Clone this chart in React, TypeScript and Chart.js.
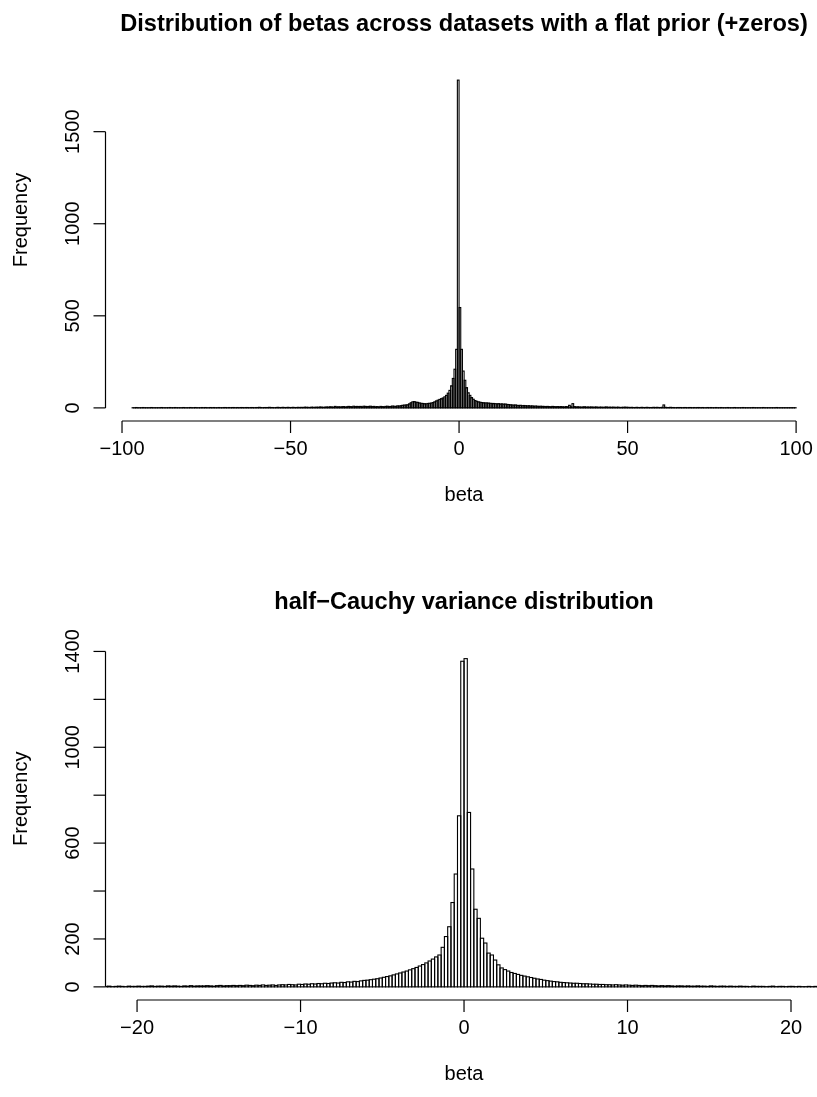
import React, { useEffect, useRef } from "react";
import { Chart, registerables } from "chart.js";

Chart.register(...registerables);

// ---------------- Top histogram: betas, flat prior (+zeros); bins of 0.5 from -97 ----------------
const topBreakStart = -97;
const topBinWidth = 0.5;
// (-97, -50]
const topFarLeft = [
  1, 1, 2, 1, 1, 1, 2, 1, 1, 1, 1, 2, 1, 1, 1, 1, 1, 2, 1, 1,
  1, 1, 2, 1, 1, 2, 1, 1, 1, 1, 2, 1, 1, 1, 2, 1, 1, 2, 1, 1,
  1, 2, 1, 2, 1, 1, 2, 1, 2, 1, 1, 2, 1, 1, 2, 2, 1, 2, 1, 2,
  2, 1, 2, 1, 2, 2, 1, 2, 2, 1, 2, 2, 1, 2, 2, 3, 2, 1, 2, 2,
  2, 3, 2, 2, 1, 2, 3, 2, 2, 3, 2, 2, 3, 2,
];
// (-50, -25]
const topMidLeft = [
  2, 3, 2, 2, 3, 2, 3, 2, 4, 3, 3, 2, 4, 3, 3, 4, 3, 5, 4, 3,
  4, 5, 4, 6, 5, 4, 8, 5, 6, 5, 6, 7, 5, 6, 8, 7, 6, 9, 7, 8,
  7, 8, 6, 9, 8, 7, 8, 9, 7, 8,
];
// (-25, -5]
const topNearLeft = [
  6, 7, 5, 8, 7, 6, 8, 9, 7, 8, 10, 9, 8, 11, 10, 12,
  14, 15, 16, 17,
  22, 28, 33, 34, 31, 30,
  27, 25, 24, 23, 22, 24, 25, 26, 29, 33,
  38, 42, 46, 50,
];
// (-5, 5]
const topCenter = [
  54, 60, 68, 80, 95, 120, 160, 210, 318, 1780,
  545, 318, 200, 150, 110, 82, 68, 56, 47, 40,
];
// (5, 25]
const topNearRight = [
  36, 33, 31, 29, 28, 27, 27, 26, 25, 24, 24, 23, 22, 23, 21, 22, 20, 21, 19, 18,
  17, 16, 15, 16, 14, 13, 14, 12, 13, 12, 11, 12, 10, 11, 9, 10, 9, 8, 9, 8,
];
// (25, 50]
const topMidRight = [
  8, 7, 8, 7, 6, 8, 7, 6, 7, 6, 7, 6, 5, 7, 6, 14, 6, 23, 7, 5,
  6, 5, 4, 5, 6, 4, 5, 4, 5, 4, 4, 5, 3, 4, 4, 3, 4, 5, 3, 4,
  3, 4, 3, 3, 4, 2, 3, 3, 4, 3,
];
// (50, 100]
const topFarRight = [
  3, 2, 3, 2, 2, 3, 2, 2, 3, 2, 2, 3, 2, 2, 2, 3, 2, 3, 2, 2,
  3, 16, 3, 2, 2, 3, 2, 2, 1, 2, 2, 2, 1, 2, 2, 1, 2, 2, 1, 2,
  1, 2, 2, 1, 2, 1, 1, 2, 1, 2, 1, 1, 2, 1, 1, 2, 1, 1, 1, 2,
  1, 1, 1, 2, 1, 1, 1, 1, 2, 1, 1, 1, 1, 1, 2, 1, 1, 1, 1, 1,
  2, 1, 1, 1, 1, 1, 1, 1, 2, 1, 1, 1, 1, 1, 1, 1, 1, 1, 1, 1,
];
const topCounts = [
  ...topFarLeft, ...topMidLeft, ...topNearLeft, ...topCenter,
  ...topNearRight, ...topMidRight, ...topFarRight,
];
const topXTicks = [-100, -50, 0, 50, 100];
const topYTicks = [0, 500, 1000, 1500];
const topYLabels = ["0", "500", "1000", "1500"];
const topTitle = "Distribution of betas across datasets with a flat prior (+zeros)";

// ---------------- Bottom histogram: half-Cauchy variance; bins of 0.2 from -22 ----------------
const bottomBreakStart = -22;
const bottomBinWidth = 0.2;
// (-22, -6]
const bottomLeftTail = [
  2, 3, 1, 2, 3, 2, 1, 3, 2, 2, 3, 2, 2, 3, 4, 2, 3, 3, 2, 4,
  3, 4, 3, 2, 4, 3, 5, 3, 4, 4, 4, 5, 4, 3, 5, 6, 4, 5, 5, 6,
  5, 6, 5, 7, 6, 5, 7, 6, 8, 6, 7, 8, 6, 8, 9, 8, 10, 9, 8, 11,
  10, 12, 11, 13, 12, 14, 13, 15, 14, 16, 17, 16, 19, 18, 21, 20, 23, 22, 25, 27,
];
// (-6, -1.6]
const bottomLeftMid = [
  28, 30, 32, 34, 37, 40, 43, 46, 50, 54, 58, 62, 66, 71, 76,
  81, 87, 93, 100, 108, 116, 125,
];
// (-1.6, 2.4]
const bottomCenter = [
  133, 165, 210, 251, 352, 471, 714, 1359, 1370, 728,
  492, 324, 286, 203, 183, 141, 133, 112, 92, 79,
];
// (2.4, 6]
const bottomRightMid = [
  72, 66, 60, 56, 52, 48, 45, 42, 39, 36, 33, 31, 28, 26, 24, 22, 21, 19,
];
// (6, 22]
const bottomRightTail = [
  18, 17, 16, 15, 15, 14, 13, 13, 12, 11, 11, 10, 10, 9, 9, 8, 9, 8, 7, 8,
  7, 6, 7, 6, 5, 6, 5, 6, 5, 4, 5, 4, 5, 4, 3, 4, 4, 3, 4, 3,
  3, 4, 3, 3, 2, 4, 3, 2, 3, 3, 2, 3, 2, 2, 3, 2, 2, 1, 3, 2,
  2, 2, 1, 2, 3, 1, 2, 2, 1, 2, 2, 1, 2, 1, 1, 2, 1, 2, 1, 1,
];
const bottomCounts = [
  ...bottomLeftTail, ...bottomLeftMid, ...bottomCenter, ...bottomRightMid, ...bottomRightTail,
];
const bottomXTicks = [-20, -10, 0, 10, 20];
const bottomYTicks = [0, 200, 400, 600, 800, 1000, 1200, 1400];
const bottomYLabels = ["0", "200", "", "600", "", "1000", "", "1400"];
const bottomTitle = "half\u2212Cauchy variance distribution";

const xTitle = "beta";
const yTitle = "Frequency";

const FONT = '"Liberation Sans", Arial, Helvetica, sans-serif';
const fmt = (v: number) => String(v).replace("-", "\u2212");

const rPlot = {
  id: "rPlot",
  afterDatasetsDraw(chart: any) {
    const ctx = chart.ctx;
    const a = chart.chartArea;
    const meta = chart.getDatasetMeta(0);
    ctx.save();
    ctx.beginPath();
    ctx.rect(a.left, a.top, a.right - a.left, a.bottom - a.top);
    ctx.clip();
    ctx.strokeStyle = "#000";
    ctx.lineWidth = 1.1;
    for (const el of meta.data) {
      const p = el.getProps(["x", "y", "base", "width"], true);
      const top = Math.min(p.y, p.base);
      ctx.strokeRect(p.x - p.width / 2, top, p.width, Math.abs(p.base - p.y));
    }
    ctx.restore();
  },
  afterDraw(chart: any, _args: any, o: any) {
    const ctx = chart.ctx;
    const a = chart.chartArea;
    const xs = chart.scales.x;
    const ys = chart.scales.y;
    ctx.save();
    ctx.strokeStyle = "#000";
    ctx.fillStyle = "#000";
    ctx.lineWidth = 1.2;
    const line = (x0: number, y0: number, x1: number, y1: number) => {
      ctx.beginPath();
      ctx.moveTo(x0, y0);
      ctx.lineTo(x1, y1);
      ctx.stroke();
    };
    // x axis
    const axY = a.bottom;
    const xt = o.xTicks as number[];
    line(xs.getPixelForValue(xt[0]), axY, xs.getPixelForValue(xt[xt.length - 1]), axY);
    ctx.font = `20px ${FONT}`;
    ctx.textAlign = "center";
    ctx.textBaseline = "alphabetic";
    for (const v of xt) {
      const px = xs.getPixelForValue(v);
      line(px, axY, px, axY + 12);
      ctx.fillText(fmt(v), px, axY + 34);
    }
    ctx.fillText(xTitle, o.centerX, axY + 80);
    // y axis
    const axX = a.left;
    const yt = o.yTicks as number[];
    line(axX, ys.getPixelForValue(yt[0]), axX, ys.getPixelForValue(yt[yt.length - 1]));
    yt.forEach((v, i) => {
      const py = ys.getPixelForValue(v);
      line(axX, py, axX - 12, py);
      const lbl = o.yLabels[i];
      if (lbl) {
        ctx.save();
        ctx.translate(axX - 27, py);
        ctx.rotate(-Math.PI / 2);
        ctx.fillText(lbl, 0, 0);
        ctx.restore();
      }
    });
    ctx.save();
    ctx.translate(axX - 79, (a.top + a.bottom) / 2 - 24);
    ctx.rotate(-Math.PI / 2);
    ctx.fillText(yTitle, 0, 0);
    ctx.restore();
    // main title
    ctx.font = `bold 23.6px ${FONT}`;
    ctx.fillText(o.title, o.centerX, a.top - 36.5);
    ctx.restore();
  },
};

type PanelProps = {
  counts: number[];
  breakStart: number;
  binWidth: number;
  xMin: number;
  xMax: number;
  yMax: number;
  xTicks: number[];
  yTicks: number[];
  yLabels: string[];
  title: string;
  height: number;
  padTop: number;
  padBottom: number;
};

function Panel(props: PanelProps) {
  const ref = useRef<HTMLCanvasElement | null>(null);
  useEffect(() => {
    if (!ref.current) return;
    const data = props.counts.map((c, i) => ({
      x: props.breakStart + (i + 0.5) * props.binWidth,
      y: c,
    }));
    const yPad = props.yMax * 0.04;
    const chart = new Chart(ref.current, {
      type: "bar",
      data: {
        datasets: [
          {
            data,
            backgroundColor: "rgba(255,255,255,0)",
            borderWidth: 0,
            barPercentage: 1,
            categoryPercentage: 1,
          },
        ],
      },
      options: {
        responsive: false,
        animation: false,
        devicePixelRatio: 1,
        layout: { padding: { left: 105.5, right: 0, top: props.padTop, bottom: props.padBottom } },
        scales: {
          x: {
            type: "linear",
            min: props.xMin,
            max: props.xMax,
            offset: false,
            display: false,
            grid: { offset: false },
            ticks: { includeBounds: false },
          },
          y: { type: "linear", min: -yPad, max: props.yMax + yPad, display: false },
        },
        plugins: {
          legend: { display: false },
          tooltip: { enabled: false },
          rPlot: {
            xTicks: props.xTicks,
            yTicks: props.yTicks,
            yLabels: props.yLabels,
            title: props.title,
            centerX: 464,
          },
        } as any,
      },
      plugins: [rPlot as any],
    });
    return () => chart.destroy();
  }, []);
  return <canvas ref={ref} width={817} height={props.height} style={{ display: "block" }} />;
}

export default function App() {
  return (
    <div style={{ position: "absolute", left: 0, top: 0, width: 817, height: 1097, background: "#fff" }}>
      <Panel
        counts={topCounts}
        breakStart={topBreakStart}
        binWidth={topBinWidth}
        xMin={-104.9}
        xMax={106.2}
        yMax={1780}
        xTicks={topXTicks}
        yTicks={topYTicks}
        yLabels={topYLabels}
        title={topTitle}
        height={548}
        padTop={67}
        padBottom={127}
      />
      <Panel
        counts={bottomCounts}
        breakStart={bottomBreakStart}
        binWidth={bottomBinWidth}
        xMin={-21.93}
        xMax={21.59}
        yMax={1370}
        xTicks={bottomXTicks}
        yTicks={bottomYTicks}
        yLabels={bottomYLabels}
        title={bottomTitle}
        height={549}
        padTop={97.5}
        padBottom={97}
      />
    </div>
  );
}
